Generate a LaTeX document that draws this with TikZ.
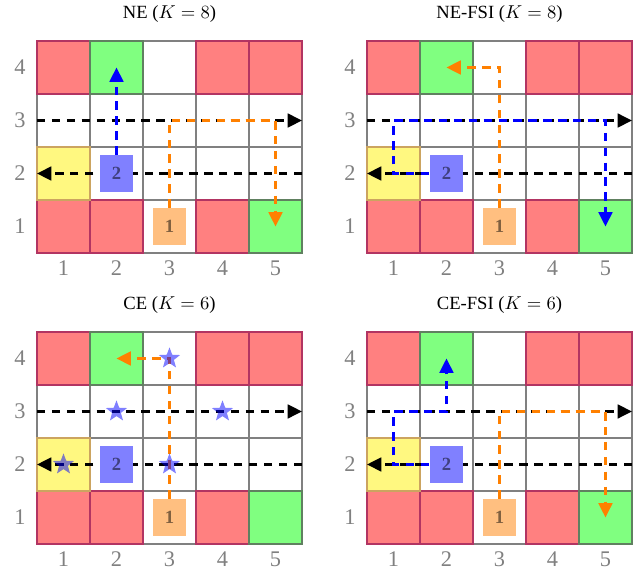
\documentclass[tikz,border=0pt]{standalone}
\usepackage{fontspec}
\setmainfont{Liberation Serif}
\usetikzlibrary{shapes.geometric, arrows.meta, positioning}
\usepackage{xcolor}

\definecolor{wallline}{RGB}{178,52,98}
\definecolor{goalline}{RGB}{96,128,96}
\definecolor{homeline}{RGB}{204,164,96}
\definecolor{onetext}{RGB}{128,96,64}
\definecolor{twotext}{RGB}{64,64,128}

% one 5x4 board: #1 name prefix, #2 shift, #3 title
\newcommand{\drawboard}[3]{%
  \begin{scope}[shift={(#2)}]
    \foreach \x in {1,...,5}
      \foreach \y in {1,...,4} {
        \draw[cell] (\x-1,\y-1) rectangle +(1,1);
        \coordinate (#1-\x\y) at (\x-0.5,\y-0.5);
      }
    \foreach \x/\y in {1/1,2/1,4/1,1/4,4/4,5/4}
      \draw[wall] (\x-1,\y-1) rectangle +(1,1);
    \foreach \x/\y in {5/1,2/4}
      \draw[goal] (\x-1,\y-1) rectangle +(1,1);
    \draw[home] (0,1) rectangle +(1,1);
    % axes and title
    \foreach \y in {1,...,4}
      \node[axis] (#1-r\y) at (-0.32,\y-0.5) {\y};
    \foreach \x in {1,...,5}
      \node[axis] (#1-c\x) at (\x-0.5,-0.29) {\x};
    \node[boardtitle] (#1-t) at (2.5,4.51) {#3};
    % fixed lanes
    \coordinate (#1-w2) at (0,1.5);
    \coordinate (#1-e2) at (5,1.5);
    \coordinate (#1-w3) at (0,2.5);
    \coordinate (#1-e3) at (5,2.5);
    \draw[lane] (#1-e2) -- (#1-w2);
    \draw[lane] (#1-w3) -- (#1-e3);
    % agents
    \node[agentone] (#1-a1) at (#1-31) {1};
    \node[agenttwo] (#1-a2) at (#1-22) {2};
  \end{scope}}

\begin{document}
\begin{tikzpicture}[
  cell/.style={draw=gray, line width=1.3pt},
  wall/.style={fill=red!50, draw=wallline, line width=1.4pt},
  goal/.style={fill=green!50, draw=goalline, line width=1.4pt},
  home/.style={fill=yellow!50, draw=homeline, line width=1.4pt},
  axis/.style={text=gray, font=\large},
  boardtitle/.style={font=\normalsize},
  agentone/.style={rectangle, fill=orange!50, minimum width=0.64cm, minimum height=0.7cm, inner sep=0pt, text=onetext, font=\bfseries},
  agenttwo/.style={rectangle, fill=blue!50, minimum width=0.64cm, minimum height=0.7cm, inner sep=0pt, text=twotext, font=\bfseries},
  lane/.style={dash pattern=on 4.5pt off 3.5pt, line width=1.2pt, -{Triangle[length=0.27cm, width=0.26cm]}},
  bluepath/.style={lane, draw=blue, line width=1.3pt},
  orangepath/.style={lane, draw=orange, line width=1.3pt},
  prize/.style={star, star points=5, star point ratio=2.4, fill=blue, fill opacity=0.5, minimum size=0.42cm, inner sep=0pt}
]
  \useasboundingbox (-0.698,-6.151) rectangle (11.34,4.774);

  % NE
  \drawboard{ne}{0,0}{NE ($K = 8$)}
  \draw[bluepath] (ne-a2) -- (ne-24);
  \draw[orangepath] (ne-a1) -- (ne-33) -- (ne-53) -- (ne-51);

  % NE-FSI
  \drawboard{nf}{6.226,0}{NE-FSI ($K = 8$)}
  \draw[bluepath] (nf-a2) -- (nf-12) -- (nf-13) -- (nf-53) -- (nf-51);
  \draw[orangepath] (nf-a1) -- (nf-34) -- (nf-24);

  % CE
  \drawboard{ce}{0,-5.49}{CE ($K = 6$)}
  \draw[orangepath] (ce-a1) -- (ce-34) -- (ce-24);
  \node[prize] (ce-s1) at (ce-34) {};
  \node[prize] (ce-s2) at (ce-23) {};
  \node[prize] (ce-s3) at (ce-43) {};
  \node[prize] (ce-s4) at (ce-12) {};
  \node[prize] (ce-s5) at (ce-32) {};

  % CE-FSI
  \drawboard{cf}{6.226,-5.49}{CE-FSI ($K = 6$)}
  \draw[bluepath] (cf-a2) -- (cf-12) -- (cf-13) -- (cf-23) -- (cf-24);
  \draw[orangepath] (cf-a1) -- (cf-33) -- (cf-53) -- (cf-51);
\end{tikzpicture}
\end{document}
